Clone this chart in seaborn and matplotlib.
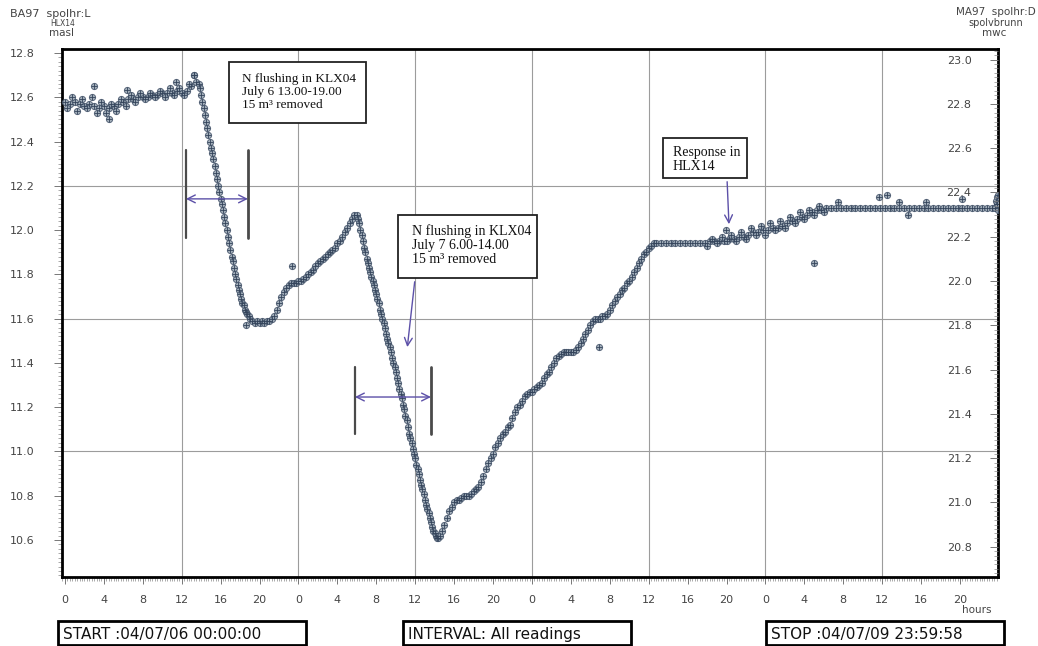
import numpy as np
import pandas as pd
import matplotlib
matplotlib.use("Agg")
import matplotlib.pyplot as plt
import seaborn as sns
from matplotlib.patches import Rectangle
from matplotlib.ticker import MultipleLocator, FuncFormatter

# ---------------------------------------------------------------------------
# Logger readings, HLX14 (m a.s.l.).  Each block: first reading hour,
# reading interval (h) and the recorded levels.
# ---------------------------------------------------------------------------
blk1_start, blk1_step = 0.0, 0.5
blk1_level = [12.58, 12.57, 12.58, 12.57, 12.56, 12.57, 12.56, 12.55, 12.56, 12.55,
              12.56, 12.57, 12.58, 12.59, 12.59, 12.60, 12.60, 12.60, 12.61, 12.61,
              12.62, 12.62, 12.62, 12.63, 12.62, 12.63, 12.65, 12.67]

blk1b_start, blk1b_step = 0.25, 0.5
blk1b_level = [12.55, 12.60, 12.54, 12.59, 12.55, 12.60, 12.53, 12.58, 12.53, 12.57,
               12.54, 12.59, 12.56, 12.61, 12.58, 12.62, 12.59, 12.62, 12.60, 12.63,
               12.60, 12.64, 12.61, 12.64, 12.61, 12.66, 12.70]

blk2_start, blk2_step = 13.75, 0.125
blk2_level = [12.66, 12.64, 12.61, 12.58, 12.55, 12.52, 12.49, 12.46, 12.43, 12.40,
              12.37, 12.35, 12.32, 12.29, 12.26, 12.23, 12.20, 12.17, 12.14, 12.12,
              12.09, 12.06, 12.03, 12.00, 11.97, 11.94, 11.91, 11.88, 11.86, 11.83,
              11.80, 11.78, 11.75, 11.73, 11.71, 11.69, 11.67, 11.66, 11.64, 11.63,
              11.62, 11.61, 11.60]

blk3_start, blk3_step = 19.25, 0.25
blk3_level = [11.59, 11.58, 11.59, 11.58, 11.59, 11.58, 11.59, 11.59, 11.60, 11.61,
              11.64, 11.67, 11.70, 11.72, 11.74, 11.75, 11.76, 11.76, 11.76, 11.77,
              11.77, 11.78, 11.79, 11.80, 11.81, 11.82, 11.84, 11.85, 11.86, 11.87,
              11.88, 11.89, 11.90, 11.91, 11.92, 11.94, 11.95, 11.97, 11.99, 12.01,
              12.03, 12.05, 12.07]

blk4_start, blk4_step = 30.0, 0.125
blk4_level = [12.07, 12.05, 12.03, 12.00, 11.98, 11.95, 11.92, 11.90, 11.87, 11.85,
              11.83, 11.81, 11.79, 11.77, 11.75, 11.73, 11.71, 11.69, 11.67, 11.64,
              11.62, 11.60, 11.58, 11.56, 11.53, 11.51, 11.49, 11.47, 11.45, 11.42,
              11.40, 11.38, 11.36, 11.33, 11.31, 11.28, 11.26, 11.24, 11.21, 11.19,
              11.16, 11.14, 11.11, 11.08, 11.06, 11.04, 11.01, 10.99, 10.97, 10.94,
              10.92, 10.90, 10.87, 10.85, 10.83, 10.81, 10.78, 10.76, 10.74, 10.72,
              10.70, 10.68, 10.66, 10.64, 10.63, 10.62, 10.61, 10.61, 10.62]

blk5_start, blk5_step = 38.75, 0.25
blk5_level = [10.64, 10.67, 10.70, 10.73, 10.75, 10.77, 10.78, 10.78, 10.79, 10.80,
              10.80, 10.80, 10.81, 10.82, 10.83, 10.84, 10.86, 10.89, 10.92, 10.95,
              10.97, 10.99, 11.02, 11.04, 11.06, 11.08, 11.09, 11.11, 11.12, 11.15,
              11.18, 11.20, 11.21, 11.23, 11.25, 11.26, 11.27, 11.27, 11.28, 11.29,
              11.30, 11.31, 11.33, 11.35, 11.36, 11.38, 11.40, 11.42, 11.43, 11.44,
              11.45, 11.45, 11.45, 11.45, 11.45, 11.46, 11.47, 11.49, 11.51, 11.53,
              11.55, 11.57, 11.59, 11.60, 11.60, 11.60, 11.61, 11.61, 11.62, 11.64,
              11.66, 11.68, 11.70, 11.71, 11.73, 11.74, 11.76, 11.77, 11.79, 11.81,
              11.83, 11.85, 11.87, 11.89, 11.90, 11.92, 11.93, 11.94]

blk6_start, blk6_step = 60.75, 0.5
blk6_level = [11.94, 11.94, 11.94, 11.94, 11.94, 11.94, 11.94, 11.94, 11.94, 11.94,
              11.94, 11.95, 11.95, 11.95, 11.95, 11.96, 11.96, 11.97, 11.97, 11.98,
              11.99, 11.99, 12.00, 12.00, 12.01, 12.01, 12.02, 12.03, 12.04, 12.05,
              12.06, 12.07, 12.08, 12.09, 12.09, 12.10, 12.10, 12.10, 12.10, 12.10,
              12.10, 12.10, 12.10, 12.10, 12.10, 12.10, 12.10, 12.10, 12.10, 12.10,
              12.10, 12.10, 12.10, 12.10, 12.10, 12.10, 12.10, 12.10, 12.10, 12.10,
              12.10, 12.10, 12.10, 12.10, 12.10, 12.10, 12.10, 12.10, 12.10, 12.10,
              12.12]

blk6b_start, blk6b_step = 66.0, 0.5
blk6b_level = [11.93, 11.96, 11.94, 11.97, 11.95, 11.98, 11.95, 11.99, 11.96, 12.01,
               11.98, 12.02, 11.98, 12.03, 12.00, 12.04, 12.01, 12.06, 12.03, 12.08,
               12.05, 12.09, 12.07, 12.11, 12.08]

# isolated readings
odd_hour = [3.0, 6.4, 4.5, 11.4, 13.3, 18.6, 23.3, 54.9, 67.9, 77.0,
            79.5, 83.7, 84.5, 85.7, 86.6, 88.5, 92.2,
            95.55, 95.65, 95.75, 95.8, 95.85, 95.9]
odd_level = [12.65, 12.635, 12.50, 12.67, 12.70, 11.57, 11.84, 11.47, 12.00, 11.85,
             12.125, 12.15, 12.16, 12.125, 12.07, 12.125, 12.14,
             12.10, 12.13, 12.15, 12.12, 12.09, 12.16]

blocks = [(blk1_start, blk1_step, blk1_level), (blk1b_start, blk1b_step, blk1b_level),
          (blk2_start, blk2_step, blk2_level), (blk3_start, blk3_step, blk3_level),
          (blk4_start, blk4_step, blk4_level), (blk5_start, blk5_step, blk5_level),
          (blk6_start, blk6_step, blk6_level), (blk6b_start, blk6b_step, blk6b_level)]

hours, levels = [], []
for start, step, lev in blocks:
    hours.extend(start + step * np.arange(len(lev)))
    levels.extend(lev)
hours.extend(odd_hour)
levels.extend(odd_level)
df = pd.DataFrame({"hour": hours, "level": levels})

# axis settings
x_major = 4
grid_hours = [12, 24, 36, 48, 60, 72, 84]
grid_levels = [12.2, 11.6, 11.0]
left_ticks = [10.6, 10.8, 11.0, 11.2, 11.4, 11.6, 11.8, 12.0, 12.2, 12.4, 12.6, 12.8]
right_ticks = [20.8, 21.0, 21.2, 21.4, 21.6, 21.8, 22.0, 22.2, 22.4, 22.6, 22.8, 23.0]
right_offset = 10.23          # spolvbrunn (mwc) minus HLX14 (masl)

sns.set_style("white")
plt.rcParams["font.family"] = ["DejaVu Sans"]

W, H = 1038, 646
fig = plt.figure(figsize=(W / 100, H / 100), dpi=100)
ax = fig.add_axes([62 / W, 1 - 577 / H, (998 - 62) / W, (577 - 49) / H])

def fx(px):
    return px / W

def fy(py):
    return 1 - py / H

# grid
for g in grid_hours:
    ax.axvline(g, color="#9c9c9c", lw=0.8, zorder=1)
for g in grid_levels:
    ax.axhline(g, color="#9c9c9c", lw=0.8, zorder=1)

# readings: ringed plus markers
sns.scatterplot(data=df, x="hour", y="level", ax=ax, marker="o", s=20,
                facecolor="#94a2b0", edgecolor="#44546a", linewidth=0.7,
                alpha=0.85, zorder=3, legend=False)
sns.scatterplot(data=df, x="hour", y="level", ax=ax, marker="+", s=14,
                color="#33435a", linewidth=0.6, zorder=4, legend=False)

ax.set_xlim(-0.3, 95.9)
ax.set_ylim(10.433, 12.818)
ax.set_xlabel("")
ax.set_ylabel("")

for s in ax.spines.values():
    s.set_color("black")
    s.set_linewidth(2)

ax.xaxis.set_major_locator(MultipleLocator(x_major))
ax.xaxis.set_minor_locator(MultipleLocator(0.25))
ax.xaxis.set_major_formatter(FuncFormatter(lambda v, p: f"{int(round(v)) % 24}"))
ax.tick_params(axis="x", which="major", direction="out", length=5, width=0.7,
               color="#777777", labelsize=8, labelcolor="#444444", pad=8, bottom=True)
ax.tick_params(axis="x", which="minor", direction="out", length=3, width=0.5,
               color="#888888", bottom=True)

ax.set_yticks(left_ticks)
ax.yaxis.set_major_formatter(FuncFormatter(lambda v, p: f"{v:.1f}"))
ax.yaxis.set_minor_locator(MultipleLocator(0.02))
ax.tick_params(axis="y", which="major", direction="out", length=6, width=0.7,
               color="#777777", labelsize=8, labelcolor="#444444", pad=14, left=True)
ax.tick_params(axis="y", which="minor", direction="out", length=3, width=0.5,
               color="#888888", left=True)

# right-hand scale (mwc)
ax2 = ax.twinx()
lo, hi = ax.get_ylim()
ax2.set_ylim(lo + right_offset, hi + right_offset)
ax2.set_yticks(right_ticks)
ax2.yaxis.set_major_formatter(FuncFormatter(lambda v, p: f"{v:.1f}"))
ax2.yaxis.set_minor_locator(MultipleLocator(0.02))
ax2.tick_params(axis="y", which="major", direction="in", length=6, width=0.7,
                color="#777777", labelsize=8, labelcolor="#444444", pad=-19, right=True)
ax2.tick_params(axis="y", which="minor", direction="in", length=3, width=0.5,
                color="#888888", right=True)
for t in ax2.get_yticklabels():
    t.set_horizontalalignment("right")
for s in ax2.spines.values():
    s.set_visible(False)

# annotations
serif = "Liberation Serif"
box_kw = dict(fill=True, facecolor="white", edgecolor="#222222", lw=1.3, zorder=6)
arrow_col = "#5c50a8"

ax.add_patch(Rectangle((16.86, 12.484), 30.9 - 16.86, 12.759 - 12.484, **box_kw))
ax.text(18.19, 12.624, "N flushing in KLX04\nJuly 6 13.00-19.00\n15 m³ removed",
        family=serif, fontsize=9.5, ha="left", va="center", linespacing=1.15,
        color="#111111", zorder=7)

ax.add_patch(Rectangle((34.23, 11.784), 48.52 - 34.23, 12.068 - 11.784, **box_kw))
ax.text(35.67, 11.933, "N flushing in KLX04\nJuly 7 6.00-14.00\n15 m³ removed",
        family=serif, fontsize=10, ha="left", va="center", linespacing=1.1,
        color="#111111", zorder=7)

ax.add_patch(Rectangle((61.47, 12.235), 70.11 - 61.47, 12.416 - 12.235, **box_kw))
ax.text(62.5, 12.321, "Response in\nHLX14", family=serif, fontsize=10,
        ha="left", va="center", linespacing=1.1, color="#111111", zorder=7)

ax.annotate("", xy=(35.16, 11.459), xytext=(35.98, 11.779),
            arrowprops=dict(arrowstyle="->", color=arrow_col, lw=1.0,
                            mutation_scale=14), zorder=7)
ax.annotate("", xy=(68.26, 12.014), xytext=(68.05, 12.231),
            arrowprops=dict(arrowstyle="->", color=arrow_col, lw=1.0,
                            mutation_scale=14), zorder=7)

# flushing periods
for (h0, h1, top, bot, mid) in [(12.44, 18.81, 12.362, 11.964, 12.141),
                                (29.81, 37.62, 11.382, 11.079, 11.246)]:
    ax.plot([h0, h0], [bot, top], color="#4a4a4a", lw=1.6, zorder=5)
    ax.plot([h1, h1], [bot, top], color="#4a4a4a", lw=2.0, zorder=5)
    ax.annotate("", xy=(h0, mid), xytext=(h1, mid),
                arrowprops=dict(arrowstyle="<->", color=arrow_col, lw=1.0,
                                mutation_scale=14, shrinkA=0, shrinkB=0), zorder=6)

# header labels
hdr = dict(color="#444444", family="DejaVu Sans")
fig.text(fx(10), fy(14), "BA97  spolhr:L", fontsize=8, ha="left", va="center", **hdr)
fig.text(fx(63), fy(24), "HLX14", fontsize=5.5, ha="center", va="center", **hdr)
fig.text(fx(62), fy(33), "masl", fontsize=7.5, ha="center", va="center", **hdr)
fig.text(fx(1036), fy(12), "MA97  spolhr:D", fontsize=7.5, ha="right", va="center", **hdr)
fig.text(fx(996), fy(23), "spolvbrunn", fontsize=7, ha="center", va="center", **hdr)
fig.text(fx(994), fy(33), "mwc", fontsize=7.5, ha="center", va="center", **hdr)
fig.text(fx(977), fy(610), "hours", fontsize=7.5, ha="center", va="center", **hdr)

# footer boxes
for (x0, x1, label) in [(58, 306, "START :04/07/06 00:00:00"),
                        (403, 631, "INTERVAL: All readings"),
                        (766, 1004, "STOP :04/07/09 23:59:58")]:
    fig.patches.append(Rectangle((fx(x0), fy(645)), fx(x1) - fx(x0), fy(621) - fy(645),
                                 transform=fig.transFigure, fill=False,
                                 edgecolor="black", lw=2))
    fig.text(fx(x0 + 5), fy(634), label, fontsize=11, ha="left", va="center",
             color="#111111", family="DejaVu Sans")

fig.savefig("out.png", dpi=100)
